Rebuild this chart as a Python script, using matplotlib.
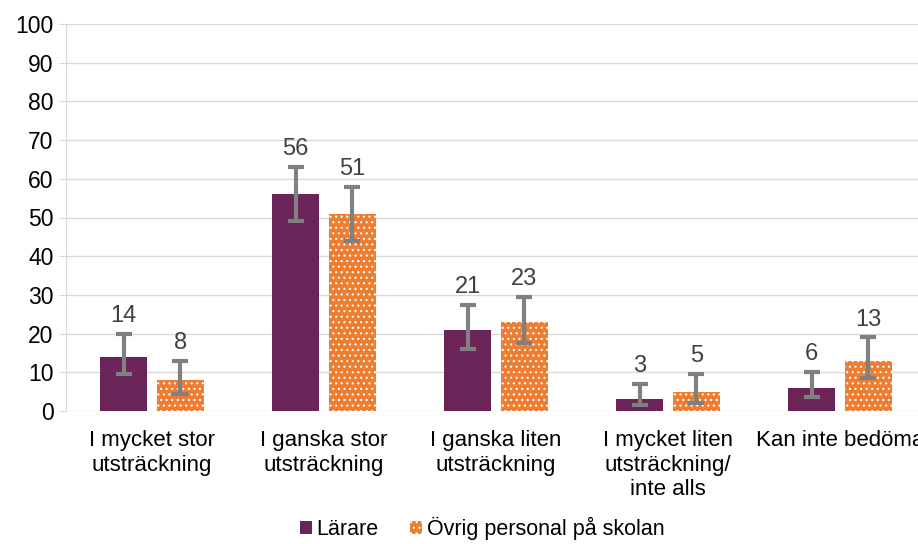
import numpy as np
import matplotlib.pyplot as plt

plt.rcParams['font.family'] = ['Liberation Sans', 'DejaVu Sans']
plt.rcParams['hatch.linewidth'] = 0.8

categories = ["I mycket stor\nutsträckning", "I ganska stor\nutsträckning",
              "I ganska liten\nutsträckning", "I mycket liten\nutsträckning/\ninte alls",
              "Kan inte bedöma"]
larare = [14, 56, 21, 3, 6]
larare_lo = [9.5, 49, 16, 1.5, 3.5]
larare_hi = [20, 63, 27.5, 7, 10]
ovrig = [8, 51, 23, 5, 13]
ovrig_lo = [4.5, 44, 17.5, 2, 8.5]
ovrig_hi = [13, 58, 29.5, 9.5, 19]

purple = "#6B2458"
orange = "#ED7D31"
grey = "#808080"

fig = plt.figure(figsize=(9.18, 5.44), dpi=100)
ax = fig.add_axes([66 / 918, 1 - 411 / 544, 860 / 918, 387 / 544])

x = np.arange(len(categories))
w = 0.273
off = 0.165

ax.bar(x - off, larare, w, color=purple, label="Lärare", zorder=2)
ax.bar(x + off, ovrig, w, color=orange, edgecolor="white", hatch="...",
       linewidth=0, label="Övrig personal på skolan", zorder=2)

for xs, v, lo, hi in [(x - off, larare, larare_lo, larare_hi),
                      (x + off, ovrig, ovrig_lo, ovrig_hi)]:
    v = np.array(v)
    yerr = [v - np.array(lo), np.array(hi) - v]
    ax.errorbar(xs, v, yerr=yerr, fmt="none", ecolor=grey, elinewidth=3,
                capsize=6, capthick=3, zorder=3)
    for xi, vi, h in zip(xs, v, hi):
        ax.annotate(f"{vi:g}", (xi, h), xytext=(0, 5), textcoords="offset points",
                    ha="center", va="bottom", fontsize=17, color="#404040")

ax.set_ylim(0, 100)
ax.set_xlim(-0.5, len(categories) - 0.5)
ax.set_yticks(range(0, 101, 10))
ax.set_xticks(x)
ax.set_xticklabels(categories, fontsize=16)
ax.tick_params(axis="y", labelsize=16.5, length=5, color="#D9D9D9", pad=4)
ax.tick_params(axis="x", length=0, pad=14)
ax.grid(axis="y", color="#D9D9D9", linewidth=1, zorder=0)
ax.set_axisbelow(True)
for s in ["top", "right", "bottom"]:
    ax.spines[s].set_visible(False)
ax.spines["left"].set_color("#D9D9D9")

ax.legend(loc="lower center", bbox_to_anchor=(482 / 918, -0.008), bbox_transform=fig.transFigure,
          ncol=2, frameon=False, fontsize=15.5, handlelength=0.55, handleheight=0.55,
          handletextpad=0.2, columnspacing=1.5, borderaxespad=0.0)

fig.savefig("out.png", dpi=100)
